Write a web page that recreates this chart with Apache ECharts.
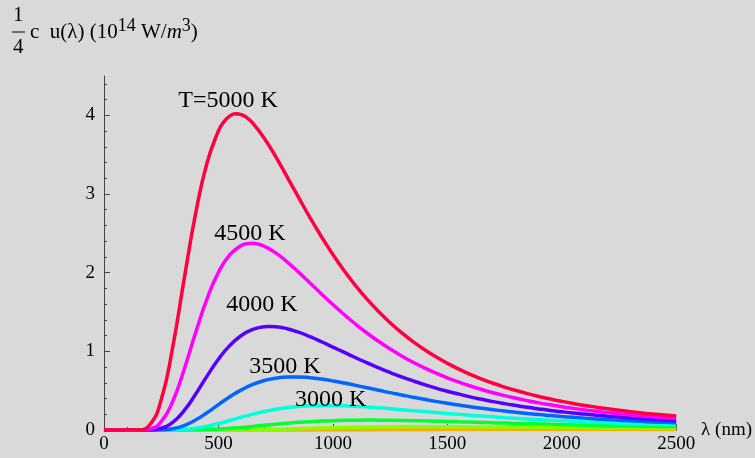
<!DOCTYPE html>
<html>
<head>
<meta charset="utf-8">
<script src="https://cdn.jsdelivr.net/npm/echarts@6/dist/echarts.min.js"></script>
<style>
  html, body { margin: 0; padding: 0; background: #d9d9d9; }
  #chart { width: 755px; height: 458px; }
</style>
</head>
<body>
<div id="chart"></div>
<script>
// wavelength grid (nm), 50 nm steps
var lambda = [0, 50, 100, 150, 200, 250, 300, 350, 400, 450, 500, 550, 600, 650, 700, 750, 800, 850, 900, 950,
    1000, 1050, 1100, 1150, 1200, 1250, 1300, 1350, 1400, 1450, 1500, 1550, 1600, 1650, 1700, 1750, 1800, 1850, 1900, 1950,
    2000, 2050, 2100, 2150, 2200, 2250, 2300, 2350, 2400, 2450, 2500];
// 5000 K grid: extra points around the peak
var lambda5000 = [0, 50, 100, 150, 200, 250, 300, 350, 400, 450, 500, 525, 550, 575, 600, 625, 650, 700, 750, 800, 850, 900, 950,
    1000, 1050, 1100, 1150, 1200, 1250, 1300, 1350, 1400, 1450, 1500, 1550, 1600, 1650, 1700, 1750, 1800, 1850, 1900, 1950,
    2000, 2050, 2100, 2150, 2200, 2250, 2300, 2350, 2400, 2450, 2500];
// 4500 K grid: extra points around the peak
var lambda4500 = [0, 50, 100, 150, 200, 250, 300, 350, 400, 450, 500, 550, 600, 625, 650, 675, 700, 750, 800, 850, 900, 950,
    1000, 1050, 1100, 1150, 1200, 1250, 1300, 1350, 1400, 1450, 1500, 1550, 1600, 1650, 1700, 1750, 1800, 1850, 1900, 1950,
    2000, 2050, 2100, 2150, 2200, 2250, 2300, 2350, 2400, 2450, 2500];
// 4000 K grid: one extra point at the peak
var lambda4000 = [0, 50, 100, 150, 200, 250, 300, 350, 400, 450, 500, 550, 600, 650, 700, 725, 750, 800, 850, 900, 950,
    1000, 1050, 1100, 1150, 1200, 1250, 1300, 1350, 1400, 1450, 1500, 1550, 1600, 1650, 1700, 1750, 1800, 1850, 1900, 1950,
    2000, 2050, 2100, 2150, 2200, 2250, 2300, 2350, 2400, 2450, 2500];
// coarser grid (nm) for the two coolest curves
var lambdaCoarse = [0, 100, 200, 300, 400, 500, 600, 700, 800, 900, 1000, 1100, 1200, 1300, 1400, 1500, 1600, 1700,
    1800, 1900, 2000, 2100, 2200, 2300, 2400, 2500];

var t5000 = [0, 0, 0, 0.002, 0.066, 0.384, 1.051, 1.915, 2.747, 3.393, 3.803, 3.923, 3.993, 4.020, 4.009, 3.967, 3.900, 3.710, 3.475, 3.218, 2.956, 2.700, 2.457,
    2.231, 2.022, 1.832, 1.660, 1.504, 1.363, 1.237, 1.123, 1.022, 0.930, 0.848, 0.774, 0.708, 0.648, 0.594, 0.546, 0.502, 0.462, 0.426, 0.393,
    0.364, 0.337, 0.312, 0.290, 0.269, 0.250, 0.233, 0.217, 0.203, 0.190, 0.177];
var t4500 = [0, 0, 0, 0, 0.013, 0.107, 0.362, 0.768, 1.235, 1.666, 2.004, 2.228, 2.345, 2.369, 2.374, 2.362, 2.336, 2.252, 2.138, 2.007, 1.869, 1.730,
    1.595, 1.465, 1.344, 1.230, 1.126, 1.030, 0.942, 0.862, 0.789, 0.723, 0.663, 0.609, 0.560, 0.515, 0.474, 0.437, 0.404, 0.373, 0.345, 0.320,
    0.296, 0.275, 0.256, 0.238, 0.222, 0.207, 0.193, 0.180, 0.169, 0.158, 0.148];
var t4000 = [0, 0, 0, 0, 0.002, 0.022, 0.096, 0.245, 0.454, 0.685, 0.900, 1.076, 1.202, 1.279, 1.314, 1.317, 1.314, 1.288, 1.243, 1.186, 1.122,
    1.054, 0.986, 0.918, 0.852, 0.790, 0.731, 0.676, 0.625, 0.577, 0.533, 0.493, 0.456, 0.421, 0.390, 0.361, 0.335, 0.311, 0.288, 0.268, 0.249,
    0.232, 0.216, 0.202, 0.188, 0.176, 0.164, 0.154, 0.144, 0.135, 0.127, 0.119];
var t3500 = [0, 0, 0, 0, 0, 0.003, 0.017, 0.056, 0.126, 0.219, 0.322, 0.422, 0.510, 0.579, 0.629, 0.659, 0.674, 0.675, 0.665, 0.647,
    0.624, 0.597, 0.567, 0.536, 0.506, 0.475, 0.446, 0.417, 0.390, 0.364, 0.340, 0.317, 0.296, 0.276, 0.258, 0.241, 0.225, 0.210, 0.196, 0.184,
    0.172, 0.161, 0.151, 0.141, 0.133, 0.124, 0.117, 0.110, 0.103, 0.097, 0.092];
var t3000 = [0, 0, 0, 0, 0, 0, 0.002, 0.008, 0.023, 0.048, 0.082, 0.121, 0.163, 0.202, 0.236, 0.264, 0.285, 0.300, 0.309, 0.312,
    0.312, 0.308, 0.301, 0.292, 0.282, 0.270, 0.258, 0.246, 0.234, 0.222, 0.210, 0.199, 0.187, 0.177, 0.167, 0.157, 0.148, 0.140, 0.132, 0.124,
    0.117, 0.110, 0.104, 0.098, 0.093, 0.087, 0.083, 0.078, 0.074, 0.070, 0.066];
var t2500 = [0, 0, 0, 0, 0, 0, 0, 0.001, 0.002, 0.006, 0.012, 0.021, 0.033, 0.046, 0.060, 0.073, 0.086, 0.097, 0.106, 0.113,
    0.119, 0.123, 0.125, 0.126, 0.125, 0.124, 0.122, 0.119, 0.116, 0.112, 0.109, 0.105, 0.101, 0.096, 0.092, 0.088, 0.084, 0.081, 0.077, 0.073,
    0.070, 0.066, 0.063, 0.060, 0.057, 0.054, 0.052, 0.049, 0.047, 0.045, 0.043];
var t2000 = [0, 0, 0, 0, 0, 0.001, 0.003, 0.008, 0.014, 0.021, 0.028, 0.034, 0.038, 0.040, 0.041, 0.041, 0.040, 0.039,
    0.037, 0.035, 0.033, 0.031, 0.029, 0.027, 0.025, 0.023];
var t1500 = [0, 0, 0, 0, 0, 0, 0, 0, 0.001, 0.0015, 0.0026, 0.0038, 0.0051, 0.0063, 0.0074, 0.0082, 0.0089, 0.0094,
    0.0097, 0.0098, 0.0097, 0.0096, 0.0094, 0.0091, 0.0088, 0.0084];

var yTicks = [0, 1, 2, 3, 4];
var yMinorTicks = [0.2, 0.4, 0.6, 0.8, 1.2, 1.4, 1.6, 1.8, 2.2, 2.4, 2.6, 2.8, 3.2, 3.4, 3.6, 3.8, 4.2, 4.4];

// curve labels: text and [wavelength, value] where it sits
var curveLabels = [
    { T: 5000, text: 'T=5000 K', at: [542, 4.19] },
    { T: 4500, text: '4500 K', at: [638, 2.50] },
    { T: 4000, text: '4000 K', at: [690, 1.59] },
    { T: 3500, text: '3500 K', at: [790, 0.80] },
    { T: 3000, text: '3000 K', at: [990, 0.39] }
];

var FONT = 'Liberation Serif';

function pairs(xs, ys) {
    var out = [];
    for (var i = 0; i < xs.length; i++) {
        out.push([xs[i], ys[i]]);
    }
    return out;
}

function curve(T, xs, ys, color) {
    var s = {
        type: 'line',
        name: T + ' K',
        data: pairs(xs, ys),
        showSymbol: false,
        smooth: 0.5,
        clip: false,
        lineStyle: { color: color, width: 3.5 },
        itemStyle: { color: color }
    };
    for (var i = 0; i < curveLabels.length; i++) {
        if (curveLabels[i].T === T) {
            s.markPoint = {
                symbol: 'circle',
                symbolSize: 0,
                label: {
                    show: true,
                    position: 'inside',
                    formatter: '{b}',
                    color: '#000',
                    fontFamily: FONT,
                    fontSize: 24
                },
                data: [{ name: curveLabels[i].text, coord: curveLabels[i].at }]
            };
        }
    }
    return s;
}

var chart = echarts.init(document.getElementById('chart'));

var option = {
    backgroundColor: '#d9d9d9',
    animation: false,
    grid: { left: 104, right: 75, top: 76, bottom: 28, containLabel: false },
    xAxis: {
        type: 'value',
        min: 0,
        max: 2500,
        interval: 500,
        name: 'λ (nm)',
        nameLocation: 'end',
        nameGap: 14,
        nameTextStyle: { fontFamily: FONT, fontSize: 19, color: '#000', verticalAlign: 'middle', padding: [4, 0, 0, 0] },
        axisLine: { show: true, lineStyle: { color: '#444', width: 1 } },
        axisTick: { show: true, inside: true, length: 6, lineStyle: { color: '#444' } },
        minorTick: { show: true, splitNumber: 5, length: 3, lineStyle: { color: '#444' } },
        axisLabel: {
            fontFamily: FONT, fontSize: 19, color: '#000', margin: 5,
            formatter: function (v) { return String(v); }
        },
        splitLine: { show: false }
    },
    yAxis: [{
        type: 'value',
        min: 0,
        max: 4.5,
        position: 'left',
        axisLine: { show: true, onZero: false, lineStyle: { color: '#444', width: 1 } },
        axisTick: { show: true, inside: true, length: 6, customValues: yTicks, lineStyle: { color: '#444' } },
        axisLabel: { fontFamily: FONT, fontSize: 19, color: '#000', margin: 9, customValues: yTicks },
        splitLine: { show: false }
    }, {
        type: 'value',
        min: 0,
        max: 4.5,
        position: 'left',
        axisLine: { show: false },
        axisTick: { show: true, inside: true, length: 3, customValues: yMinorTicks, lineStyle: { color: '#444' } },
        axisLabel: { show: false },
        splitLine: { show: false }
    }],
    series: [
        curve(1500, lambdaCoarse, t1500, '#ffaa00'),
        curve(2000, lambdaCoarse, t2000, '#88ff00'),
        curve(2500, lambda, t2500, '#00ff33'),
        curve(3000, lambda, t3000, '#00ffdd'),
        curve(3500, lambda, t3500, '#0066ff'),
        curve(4000, lambda4000, t4000, '#5500ff'),
        curve(4500, lambda4500, t4500, '#ff00ff'),
        curve(5000, lambda5000, t5000, '#ff0040')
    ],
    graphic: [
        { type: 'text', left: 13, top: 5, style: { text: '1', fontFamily: FONT, fontSize: 21, fill: '#000' } },
        { type: 'line', shape: { x1: 12, y1: 32, x2: 25, y2: 32 }, style: { stroke: '#000', lineWidth: 1 } },
        { type: 'text', left: 13, top: 37, style: { text: '4', fontFamily: FONT, fontSize: 21, fill: '#000' } },
        {
            type: 'text', left: 30, top: 17,
            style: {
                text: 'c  u(λ) (10{sup|14} W/{it|m}{sup|3})',
                fontFamily: FONT, fontSize: 21, fill: '#000',
                rich: {
                    sup: { fontFamily: FONT, fontSize: 18, verticalAlign: 'top', lineHeight: 30, fill: '#000' },
                    it: { fontFamily: FONT, fontSize: 21, fontStyle: 'italic', fill: '#000' }
                }
            }
        }
    ]
};

chart.setOption(option);
</script>
</body>
</html>
